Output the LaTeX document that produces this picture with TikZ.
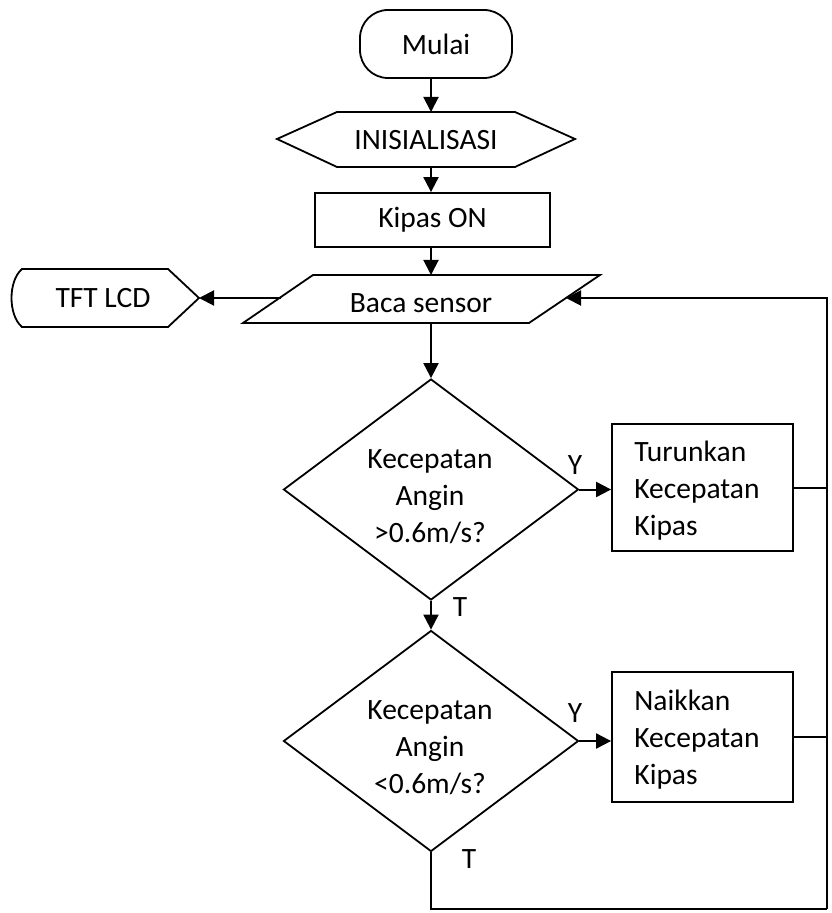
\documentclass[tikz,border=0pt]{standalone}
\usepackage{fontspec}
\setmainfont{Carlito}
\usetikzlibrary{shapes.geometric,arrows.meta}
\tikzset{
  shp/.style={draw, line width=0.9pt},
  arr/.style={line width=1pt, -{Triangle[length=7.5pt,width=7.5pt]}},
  ln/.style={line width=1pt},
  txt/.style={font=\fontsize{14.75}{18.5}\selectfont, inner sep=0pt},
  dec/.style={shp, diamond, minimum width=147.5pt, minimum height=110.5pt, inner sep=0pt},
  procbox/.style={shp, minimum width=90.5pt, minimum height=63.5pt, inner sep=0pt},
  proctext/.style={txt, text width=68.5pt, align=left, anchor=west},
}
\begin{document}
\begin{tikzpicture}[x=0.5pt,y=-0.5pt]
\useasboundingbox (0,0) rectangle (831,913);
\coordinate (col) at (431,0);
% Mulai
\node[shp, txt, rounded corners=14pt, minimum width=76pt, minimum height=34pt] (mulai) at (436,44) {Mulai};
% INISIALISASI
\draw[shp] (277,139) -- (337,112) -- (515,112) -- (575,139) -- (515,167) -- (337,167) -- cycle;
\coordinate (initop) at (431,112);
\coordinate (inibot) at (431,167);
\node[txt] (ini) at (426,140) {INISIALISASI};
% Kipas ON
\node[shp, txt, minimum width=117.5pt, minimum height=27pt] (kip) at (432.5,220) {Kipas ON};
% Baca sensor
\draw[shp] (243,323) -- (313,275) -- (600,275) -- (529,323) -- cycle;
\node[txt] (baca) at (421,303) {Baca sensor};
\coordinate (bacatop) at (431,275);
\coordinate (bacabot) at (431,323);
\coordinate (bacaleft) at (281,298);
\coordinate (bacaright) at (566,298);
% TFT LCD
\draw[shp] (22,269) -- (168,269) -- (199,298) -- (168,327) -- (22,327) .. controls (8,315) and (8,281) .. (22,269) -- cycle;
\coordinate (tftr) at (199,298);
\node[txt] (tft) at (103,298) {TFT LCD};
% decisions
\node[dec] (d1) at (431,489.5) {};
\node[txt, align=center] (d1t) at (430,497) {Kecepatan\\Angin\\>0.6m/s?};
\node[dec] (d2) at (431,741) {};
\node[txt, align=center] (d2t) at (430,748) {Kecepatan\\Angin\\<0.6m/s?};
% process boxes
\node[procbox] (tur) at (702.5,487.5) {};
\node[proctext] (turt) at (634,491) {Turunkan\\Kecepatan\\Kipas};
\node[procbox, minimum height=65pt] (nai) at (702.5,737) {};
\node[proctext] (nait) at (634,740) {Naikkan\\Kecepatan\\Kipas};
% labels
\node[txt] (y1) at (575,465) {Y};
\node[txt] (t1) at (460,607) {T};
\node[txt] (y2) at (575,713) {Y};
\node[txt] (t2) at (469,859) {T};
% loop coordinates
\coordinate (rb) at (827,909);
\coordinate (rt) at (827,298);
% connectors
\draw[arr] (mulai.south -| col) -- (initop);
\draw[arr] (inibot) -- (kip.north -| col);
\draw[arr] (kip.south -| col) -- (bacatop);
\draw[arr] (bacaleft) -- (tftr);
\draw[arr] (bacabot) -- (d1.north);
\draw[arr] (d1.east) -- (d1.east -| tur.west);
\draw[arr] (d1.south) -- (d2.north);
\draw[arr] (d2.east) -- (d2.east -| nai.west);
\draw[ln] (tur.east) -- (tur.east -| rt);
\draw[ln] (nai.east) -- (nai.east -| rt);
\draw[ln] (d2.south) -- (d2.south |- rb) -- (rb);
\draw[arr] (rb) -- (rt) -- (bacaright);
\end{tikzpicture}
\end{document}
